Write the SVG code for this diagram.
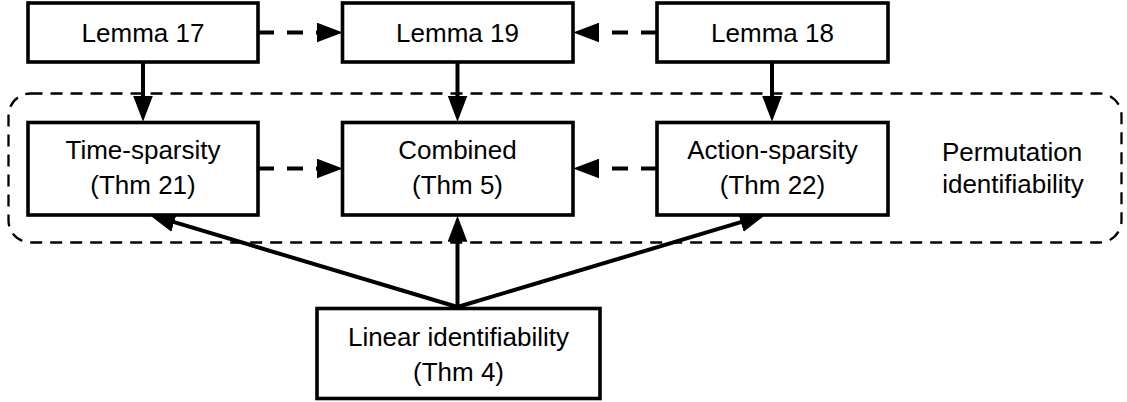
<svg xmlns="http://www.w3.org/2000/svg" width="1127" height="402" viewBox="0 0 1127 402">
<defs>
<style>
.box{fill:#fff;stroke:#000;stroke-width:3.6}
.grp{fill:none;stroke:#000;stroke-width:2.3;stroke-dasharray:12 8}
.t{font-family:"Liberation Sans",Arial,sans-serif;font-size:26px;fill:#000;text-anchor:middle}
.e{fill:none;stroke:#000;stroke-width:4;marker-end:url(#ah)}
.d{stroke-dasharray:16 13}
</style>
<marker id="ah" markerUnits="userSpaceOnUse" markerWidth="26" markerHeight="20" viewBox="0 0 25 19" refX="5" refY="9.5" orient="auto">
<path d="M0,0 L25,9.5 L0,19 Z" fill="#000"/>
</marker>
</defs>
<rect width="1127" height="402" fill="#fff"/>
<g id="permutation-group">
<rect class="grp" x="8.5" y="93.5" width="1113" height="149" rx="22" ry="22"/>
<text class="t" x="1012" y="160.5">Permutation</text>
<text class="t" x="1013" y="193">identifiability</text>
</g>
<g id="connectors">
<line class="e d" x1="258" y1="32.5" x2="322" y2="32.5"/>
<line class="e d" x1="657" y1="32.5" x2="594" y2="32.5"/>
<line class="e" x1="143" y1="62" x2="143" y2="101"/>
<line class="e" x1="457.5" y1="62" x2="457.5" y2="101"/>
<line class="e" x1="772" y1="62" x2="772" y2="101"/>
<line class="e d" x1="258" y1="168.5" x2="322" y2="168.5"/>
<line class="e d" x1="657" y1="168.5" x2="594" y2="168.5"/>
<line class="e" x1="457.5" y1="307" x2="457.5" y2="236.5"/>
<line class="e" x1="457.5" y1="307" x2="169.2" y2="220.7"/>
<line class="e" x1="457.5" y1="307" x2="745.8" y2="220.7"/>
</g>
<g id="lemma17">
<rect class="box" x="28" y="3" width="230" height="59"/>
<text class="t" x="143" y="41.5">Lemma 17</text>
</g>
<g id="lemma19">
<rect class="box" x="342.5" y="3" width="230.5" height="59"/>
<text class="t" x="457.5" y="41.5">Lemma 19</text>
</g>
<g id="lemma18">
<rect class="box" x="657" y="3" width="231" height="59"/>
<text class="t" x="772.5" y="41.5">Lemma 18</text>
</g>
<g id="time-sparsity">
<rect class="box" x="28" y="122.5" width="230" height="92.5"/>
<text class="t" x="143" y="158.5">Time-sparsity</text>
<text class="t" x="143" y="194">(Thm 21)</text>
</g>
<g id="combined">
<rect class="box" x="342.5" y="122.5" width="230.5" height="92.5"/>
<text class="t" x="457.5" y="158.5">Combined</text>
<text class="t" x="457.5" y="194">(Thm 5)</text>
</g>
<g id="action-sparsity">
<rect class="box" x="657" y="122.5" width="231" height="92.5"/>
<text class="t" x="772.5" y="158.5">Action-sparsity</text>
<text class="t" x="772.5" y="194">(Thm 22)</text>
</g>
<g id="linear-identifiability">
<rect class="box" x="317" y="308.5" width="283" height="90"/>
<text class="t" x="458.5" y="345.5">Linear identifiability</text>
<text class="t" x="458.5" y="381">(Thm 4)</text>
</g>
</svg>
